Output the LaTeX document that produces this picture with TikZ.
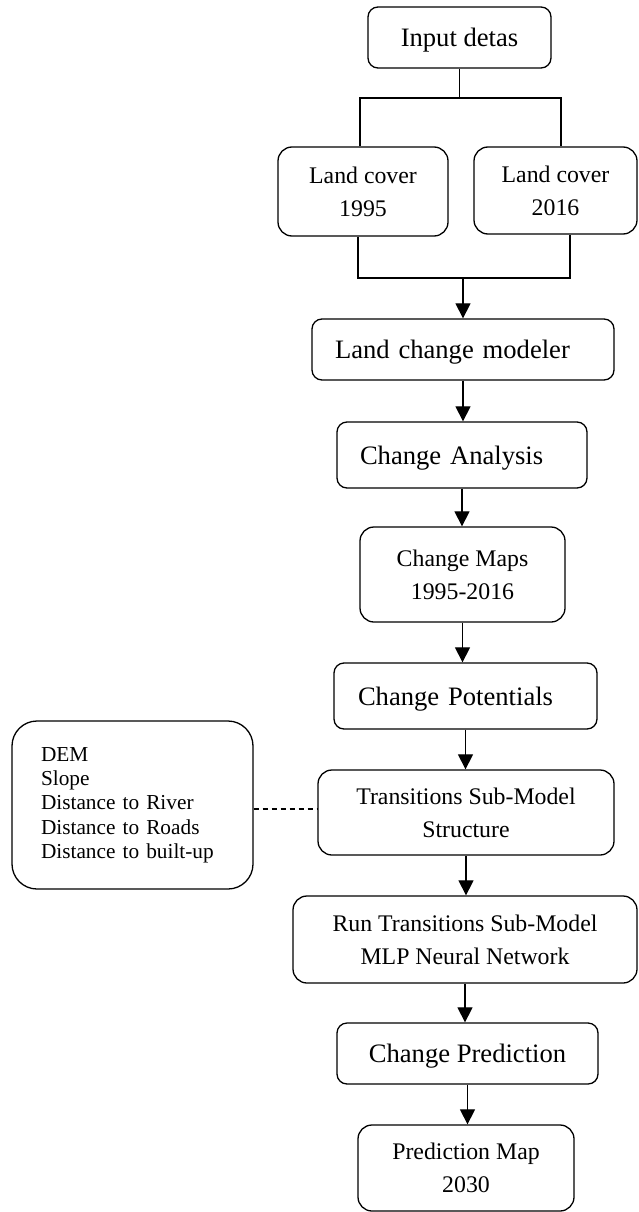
\documentclass[tikz,border=0pt]{standalone}
\usepackage{fontspec}
\setmainfont{Liberation Serif}
\usetikzlibrary{arrows.meta,calc}
\begin{document}
\begin{tikzpicture}[x=1pt,y=-1pt,
  box/.style={draw, line width=1.3pt, rounded corners=10pt, inner sep=0pt},
  big/.style={font=\fontsize{26.6}{32}\selectfont, text depth=0pt},
  mid/.style={font=\fontsize{23.8}{33}\selectfont, align=center, rounded corners=14pt},
  small/.style={font=\fontsize{21.3}{24.3}\selectfont},
  conn/.style={line width=1.2pt},
  arr/.style={line width=1.2pt, -{Triangle[length=15pt,width=15pt]}}]
\useasboundingbox (0,0) rectangle (638,1212);

\node[box,big,minimum width=183pt,minimum height=61pt] (input) at (459.5,37.5) {Input detas};
\node[box,mid,minimum width=170pt,minimum height=89pt] (lc95) at (363,191.5) {Land cover\\1995};
\node[box,mid,minimum width=163pt,minimum height=87pt] (lc16) at (555.5,190.5) {Land cover\\2016};
\node[box,big,minimum height=61pt,text width=256pt,inner xsep=23pt,align=left] (lcm) at (463,349.5) {Land change modeler};
\node[box,big,minimum height=66pt,text width=204pt,inner xsep=23pt,align=left] (ca) at (462,455) {Change Analysis};
\node[box,mid,minimum width=205pt,minimum height=95pt] (cm) at (462.5,574.5) {Change Maps\\1995-2016};
\node[box,big,minimum height=66pt,text width=215pt,inner xsep=24pt,align=left] (cp) at (465.5,696) {Change Potentials};
\node[box,mid,minimum width=296pt,minimum height=85pt] (tsm) at (466,812.5) {Transitions Sub-Model\\Structure};
\node[box,mid,minimum width=344pt,minimum height=87pt] (rts) at (465,939.5) {Run Transitions Sub-Model\\MLP Neural Network};
\node[box,big,minimum width=261pt,minimum height=61pt] (cpr) at (467.5,1053.5) {Change Prediction};
\node[box,mid,minimum width=216pt,minimum height=86pt] (pm) at (466,1168) {Prediction Map\\2030};
\node[box,small,rounded corners=25pt,minimum height=168pt,text width=183pt,inner xsep=29pt,align=left] (left) at (132.5,805)
  {DEM\\Slope\\Distance to River\\Distance to Roads\\Distance to built-up};

\coordinate (j1l) at (360,98);
\coordinate (j1r) at (561,98);
\draw[conn] (input.south) -- (input.south |- j1l);
\draw[conn] (lc95.north -| j1l) -- (j1l) -- (j1r) -- (lc16.north -| j1r);
\coordinate (j2l) at (358,278);
\coordinate (j2r) at (570,278);
\coordinate (j2m) at (463,278);
\draw[conn] (lc95.south -| j2l) -- (j2l) -- (j2r) -- (lc16.south -| j2r);
\draw[arr] (j2m) -- (lcm.north -| j2m);
\foreach \a/\b in {lcm/ca, ca/cm, cm/cp, cp/tsm, tsm/rts, rts/cpr, cpr/pm}
  \draw[arr] (\a.south) -- (\a.south |- \b.north);
\coordinate (dr) at ($(tsm.west)+(0,-3.5)$);
\draw[conn,dash pattern=on 5pt off 4pt] (dr -| left.east) -- (dr);
\end{tikzpicture}
\end{document}
